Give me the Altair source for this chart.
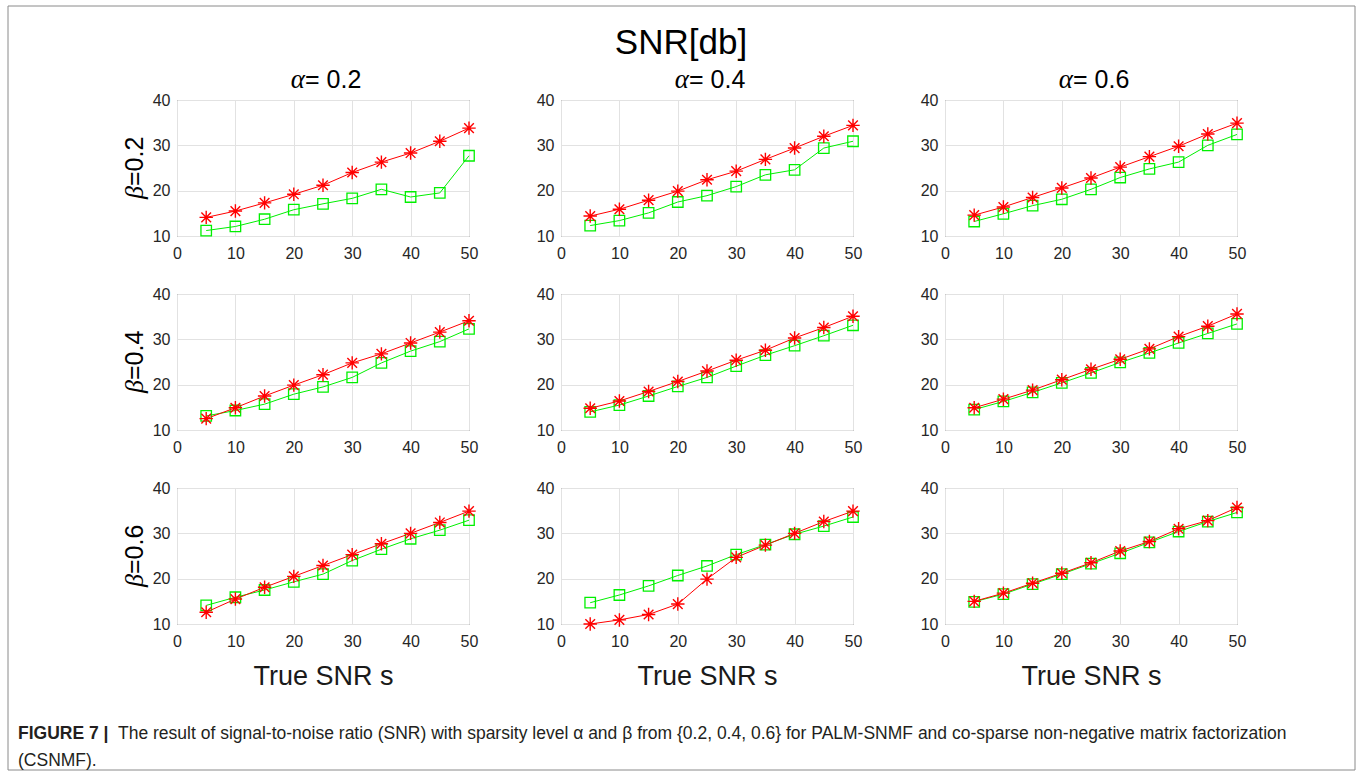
import altair as alt
import pandas as pd

# True SNR values on the x axis of every panel
true_snr = [5, 10, 15, 20, 25, 30, 35, 40, 45, 50]
alpha_labels = ["0.2", "0.4", "0.6"]
beta_labels = ["0.2", "0.4", "0.6"]
x_ticks = [0, 10, 20, 30, 40, 50]
y_ticks = [10, 20, 30, 40]

# PALM-SNMF (red asterisks), one list per (beta, alpha) panel
palm_b2_a2 = [14.1, 15.5, 17.3, 19.2, 21.2, 24.0, 26.3, 28.3, 30.9, 33.8]
palm_b2_a4 = [14.4, 15.9, 17.9, 19.9, 22.4, 24.3, 26.9, 29.4, 32.0, 34.4]
palm_b2_a6 = [14.6, 16.4, 18.5, 20.6, 22.8, 25.2, 27.5, 29.8, 32.5, 34.9]
palm_b4_a2 = [12.5, 14.9, 17.5, 19.9, 22.2, 24.8, 26.8, 29.2, 31.6, 34.1]
palm_b4_a4 = [14.8, 16.4, 18.5, 20.7, 23.0, 25.4, 27.6, 30.3, 32.6, 35.1]
palm_b4_a6 = [14.9, 16.8, 18.8, 21.1, 23.4, 25.6, 27.9, 30.6, 32.9, 35.6]
palm_b6_a2 = [12.6, 15.5, 18.1, 20.5, 22.9, 25.3, 27.7, 30.0, 32.4, 34.9]
palm_b6_a4 = [10.0, 10.9, 12.1, 14.4, 19.9, 24.7, 27.4, 30.0, 32.6, 34.9]
palm_b6_a6 = [15.0, 16.8, 19.0, 21.2, 23.5, 26.1, 28.2, 31.0, 32.8, 35.7]

# CSNMF (green squares), one list per (beta, alpha) panel
csnmf_b2_a2 = [11.2, 12.1, 13.7, 15.8, 17.1, 18.3, 20.3, 18.6, 19.5, 27.7]
csnmf_b2_a4 = [12.3, 13.4, 15.1, 17.5, 18.9, 20.9, 23.5, 24.6, 29.4, 30.9]
csnmf_b2_a6 = [13.2, 14.9, 16.7, 18.1, 20.3, 22.9, 24.8, 26.3, 30.0, 32.4]
csnmf_b4_a2 = [13.1, 14.3, 15.7, 17.9, 19.5, 21.6, 24.8, 27.4, 29.5, 32.3]
csnmf_b4_a4 = [14.0, 15.5, 17.5, 19.6, 21.6, 24.1, 26.5, 28.6, 30.8, 33.1]
csnmf_b4_a6 = [14.5, 16.3, 18.3, 20.4, 22.6, 24.9, 27.0, 29.2, 31.3, 33.4]
csnmf_b6_a2 = [14.1, 15.9, 17.5, 19.3, 21.0, 24.0, 26.5, 28.8, 30.7, 32.9]
csnmf_b6_a4 = [14.7, 16.4, 18.4, 20.7, 22.8, 25.3, 27.5, 29.8, 31.6, 33.6]
csnmf_b6_a6 = [14.9, 16.6, 18.8, 21.0, 23.3, 25.6, 28.0, 30.4, 32.6, 34.6]

palm_grid = [
    [palm_b2_a2, palm_b2_a4, palm_b2_a6],
    [palm_b4_a2, palm_b4_a4, palm_b4_a6],
    [palm_b6_a2, palm_b6_a4, palm_b6_a6],
]
csnmf_grid = [
    [csnmf_b2_a2, csnmf_b2_a4, csnmf_b2_a6],
    [csnmf_b4_a2, csnmf_b4_a4, csnmf_b4_a6],
    [csnmf_b6_a2, csnmf_b6_a4, csnmf_b6_a6],
]

caption_head = "FIGURE 7 |"
caption_line1 = ("The result of signal-to-noise ratio (SNR) with sparsity level \u03b1 and \u03b2 "
                 "from {0.2, 0.4, 0.6} for PALM-SNMF and co-sparse non-negative matrix factorization")
caption_line2 = "(CSNMF)."

RED = "#ff0000"
GREEN = "#00f000"
INK = "#262626"
SANS = "Liberation Sans"
SERIF = "Liberation Serif"
PANEL_W, PANEL_H = 292, 136

# MATLAB-style asterisk marker
ASTERISK = "M-1,0L1,0M0,-1L0,1M-0.72,-0.72L0.72,0.72M-0.72,0.72L0.72,-0.72"


def text_layer(txt, x, y, **style):
    return alt.Chart(pd.DataFrame({"t": [txt]})).mark_text(**style).encode(
        x=alt.value(x), y=alt.value(y), text="t:N"
    )


def panel(r, c):
    df = pd.DataFrame({
        "s": true_snr + true_snr,
        "snr": palm_grid[r][c] + csnmf_grid[r][c],
        "method": ["PALM-SNMF"] * len(true_snr) + ["CSNMF"] * len(true_snr),
    })
    x_axis = alt.Axis(values=x_ticks, labelPadding=9, labelFlush=False, title="True SNR s",
                      titleFontSize=27, titleFont=SANS, titleFontWeight="normal",
                      titleColor="#1a1a1a", titlePadding=14) if r == 2 else \
        alt.Axis(values=x_ticks, labelPadding=9, labelFlush=False, title=None)
    base = alt.Chart(df).encode(
        x=alt.X("s:Q", scale=alt.Scale(domain=[0, 50], nice=False, zero=False), axis=x_axis),
        y=alt.Y("snr:Q", scale=alt.Scale(domain=[10, 40], nice=False, zero=False),
                axis=alt.Axis(values=y_ticks, labelPadding=7, labelFlush=False, title=None)),
    )
    green = base.transform_filter(alt.datum.method == "CSNMF")
    red = base.transform_filter(alt.datum.method == "PALM-SNMF")
    layers = [
        green.mark_line(color=GREEN, strokeWidth=1),
        green.mark_point(shape="square", size=110, color=GREEN, filled=False,
                         strokeWidth=1.3, opacity=1),
        red.mark_line(color=RED, strokeWidth=1),
        red.mark_point(shape=ASTERISK, size=180, color=RED, filled=False,
                       strokeWidth=1.4, opacity=1),
    ]
    if r == 0:
        # column heading: alpha level
        layers.append(text_layer("\u03b1", 128, -12, font=SERIF, fontStyle="italic",
                                 fontSize=27, align="right", baseline="alphabetic", color="#000000"))
        layers.append(text_layer("= " + alpha_labels[c], 128, -12, font=SANS,
                                 fontSize=25, align="left", baseline="alphabetic", color="#000000"))
    if c == 0:
        # row heading: beta level, rotated
        layers.append(text_layer("\u03b2", -34, 86, font=SERIF, fontStyle="italic",
                                 fontSize=26, angle=270, align="right", baseline="alphabetic",
                                 color="#000000"))
        layers.append(text_layer("=" + beta_labels[r], -34, 86, font=SANS,
                                 fontSize=25, angle=270, align="left", baseline="alphabetic",
                                 color="#000000"))
    if r == 0 and c == 0:
        # figure frame, overall title and caption
        layers.insert(0, alt.Chart(pd.DataFrame({"t": [0]})).mark_rect(
            fillOpacity=0, stroke="#8a8a8a", strokeWidth=1
        ).encode(x=alt.value(-169), x2=alt.value(1178), y=alt.value(-94), y2=alt.value(670)))
        layers.append(text_layer("SNR[db]", 504, -46, font=SANS, fontSize=35,
                                 align="center", baseline="alphabetic", color="#000000"))
        layers.append(text_layer(caption_head, -159, 639, font=SANS, fontSize=17.5,
                                 fontWeight="bold", align="left", baseline="alphabetic",
                                 color="#231f20"))
        layers.append(text_layer(caption_line1, -59, 639, font=SANS, fontSize=17.5,
                                 align="left", baseline="alphabetic", color="#231f20"))
        layers.append(text_layer(caption_line2, -159, 666, font=SANS, fontSize=17.5,
                                 align="left", baseline="alphabetic", color="#231f20"))
    return alt.layer(*layers).properties(width=PANEL_W, height=PANEL_H)


panels = [panel(r, c) for r in range(3) for c in range(3)]

chart = alt.concat(
    *panels, columns=3, spacing={"row": 58, "column": 92}, bounds="flush"
).properties(
    padding={"left": 7, "top": 5, "right": 0, "bottom": 0},
    background="white",
).configure_view(
    stroke="#555555", strokeWidth=1
).configure_axis(
    labelFont=SANS, labelFontSize=16, labelColor=INK,
    grid=True, gridColor="#e2e2e2", gridWidth=1,
    ticks=False, domain=False,
)

chart.save("out.html", embed_options={"renderer": "svg", "actions": False})
